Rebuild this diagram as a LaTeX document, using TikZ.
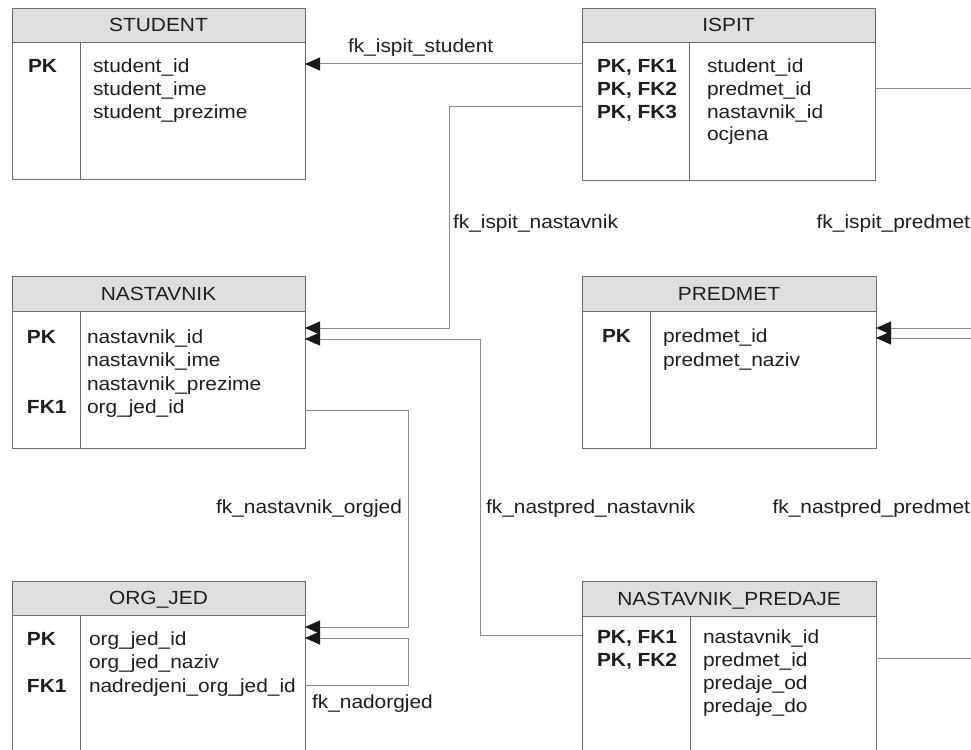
\documentclass[tikz,border=0pt]{standalone}
\usepackage{fontspec}
\setmainfont{Liberation Sans}[FakeStretch=1.1]
\usetikzlibrary{arrows.meta}
\definecolor{boxline}{HTML}{6A6A6A}
\definecolor{conn}{HTML}{8A8A8A}
\definecolor{headfill}{HTML}{DEDEDE}
\definecolor{txt}{HTML}{1E1E1E}
\newcommand\ertable[8]{% name, left, top, right, bottom, header bottom, divider x, title
  \node[tbl, minimum width={(#4-#2)*1pt}, minimum height={(#5-#3)*1pt}] (#1) at (#2,#3) {};
  \node[hdr, minimum width={(#4-#2)*1pt}, minimum height={(#6-#3)*1pt}] (#1-head) at (#2,#3) {};
  \node[txtnode, anchor=base] (#1-title) at ({(#2+#4)/2},{#6-10.5}) {#8};
  \draw[boxline, line width=0.9pt] (#7,#6) -- (#7,#5);
}
\newcommand\keytxt[4]{\node[txtnode, anchor=base west, font=\fontsize{19}{23}\selectfont\bfseries] (#1) at (#2,#3) {#4};}
\newcommand\valtxt[4]{\node[txtnode, anchor=base west] (#1) at (#2,#3) {#4};}
\begin{document}
\begin{tikzpicture}[x=1pt,y=-1pt,
  tbl/.style={draw=boxline, fill=white, line width=0.9pt, inner sep=0pt, outer sep=0pt, anchor=north west},
  hdr/.style={draw=boxline, fill=headfill, line width=0.9pt, inner sep=0pt, outer sep=0pt, anchor=north west},
  txtnode/.style={inner sep=0pt, outer sep=0pt, text=txt, font=\fontsize{19}{23}\selectfont},
  arrowtip/.tip={Triangle[length=15pt,width=13pt,color=black!90]},
  fk/.style={draw=conn, line width=1pt, -arrowtip},
  fkline/.style={draw=conn, line width=1pt},
  lbl/.style={txtnode}]
\useasboundingbox (0,0) rectangle (971,749);
\clip (0,0) rectangle (971,749);
\fill[white] (0,0) rectangle (971,749);

% STUDENT
\ertable{student}{12}{8}{305}{179}{42}{80}{STUDENT}
\keytxt{student-k1}{28}{72.5}{PK}
\valtxt{student-v1}{93}{72.5}{student\_id}
\valtxt{student-v2}{93}{95.5}{student\_ime}
\valtxt{student-v3}{93}{118.5}{student\_prezime}

% ISPIT
\ertable{ispit}{582}{8}{875}{180}{42}{689}{ISPIT}
\keytxt{ispit-k1}{597}{73}{PK, FK1}
\keytxt{ispit-k2}{597}{95.5}{PK, FK2}
\keytxt{ispit-k3}{597}{118}{PK, FK3}
\valtxt{ispit-v1}{707}{73}{student\_id}
\valtxt{ispit-v2}{707}{95.5}{predmet\_id}
\valtxt{ispit-v3}{707}{118}{nastavnik\_id}
\valtxt{ispit-v4}{707}{140.5}{ocjena}

% NASTAVNIK
\ertable{nastavnik}{12}{276}{305}{448}{311}{80}{NASTAVNIK}
\keytxt{nastavnik-k1}{27}{343}{PK}
\keytxt{nastavnik-k2}{27}{413.5}{FK1}
\valtxt{nastavnik-v1}{87}{343}{nastavnik\_id}
\valtxt{nastavnik-v2}{87}{366.5}{nastavnik\_ime}
\valtxt{nastavnik-v3}{87}{390}{nastavnik\_prezime}
\valtxt{nastavnik-v4}{87}{413.5}{org\_jed\_id}

% PREDMET
\ertable{predmet}{582}{276}{876}{448}{311}{650}{PREDMET}
\keytxt{predmet-k1}{602}{342}{PK}
\valtxt{predmet-v1}{663}{342}{predmet\_id}
\valtxt{predmet-v2}{663}{366}{predmet\_naziv}

% ORG_JED
\ertable{orgjed}{12}{581}{305}{800}{615}{80}{ORG\_JED}
\keytxt{orgjed-k1}{27}{645}{PK}
\keytxt{orgjed-k2}{27}{692}{FK1}
\valtxt{orgjed-v1}{89}{645}{org\_jed\_id}
\valtxt{orgjed-v2}{89}{668.5}{org\_jed\_naziv}
\valtxt{orgjed-v3}{89}{692}{nadredjeni\_org\_jed\_id}

% NASTAVNIK_PREDAJE
\ertable{nastpred}{582}{581}{876}{800}{616}{690}{NASTAVNIK\_PREDAJE}
\keytxt{nastpred-k1}{597}{643}{PK, FK1}
\keytxt{nastpred-k2}{597}{666}{PK, FK2}
\valtxt{nastpred-v1}{703}{643}{nastavnik\_id}
\valtxt{nastpred-v2}{703}{666}{predmet\_id}
\valtxt{nastpred-v3}{703}{689}{predaje\_od}
\valtxt{nastpred-v4}{703}{712}{predaje\_do}

% free ends at the right edge
\coordinate (offA) at (971,89);
\coordinate (offB) at (971,328);
\coordinate (offC) at (971,338);
\coordinate (offD) at (971,658);

% connectors
\draw[fk] (ispit.west |- 0,64) -- (student.east |- 0,64);
\draw[fk] (ispit.west |- 0,107) -- (449,107) -- (449,328) -- (nastavnik.east |- 0,328);
\draw[fkline] (ispit.east |- offA) -- (offA);
\draw[fk] (offB) -- (predmet.east |- offB);
\draw[fk] (offC) -- (predmet.east |- offC);
\draw[fk] (nastpred.west |- 0,635) -- (480,635) -- (480,339) -- (nastavnik.east |- 0,339);
\draw[fkline] (nastpred.east |- offD) -- (offD);
\draw[fk] (nastavnik.east |- 0,410) -- (408,410) -- (408,627) -- (orgjed.east |- 0,627);
\draw[fk] (orgjed.east |- 0,685) -- (408,685) -- (408,638) -- (orgjed.east |- 0,638);

% labels
\node[lbl, anchor=base west] (l-ispstud) at (348,53) {fk\_ispit\_student};
\node[lbl, anchor=base west] (l-ispnast) at (453,228) {fk\_ispit\_nastavnik};
\node[lbl, anchor=base east] (l-isppred) at (970,228) {fk\_ispit\_predmet};
\node[lbl, anchor=base east] (l-nastorg) at (402,513) {fk\_nastavnik\_orgjed};
\node[lbl, anchor=base west] (l-npnast) at (486,513) {fk\_nastpred\_nastavnik};
\node[lbl, anchor=base east] (l-nppred) at (970,513) {fk\_nastpred\_predmet};
\node[lbl, anchor=base west] (l-nadorg) at (312,708) {fk\_nadorgjed};
\end{tikzpicture}
\end{document}
